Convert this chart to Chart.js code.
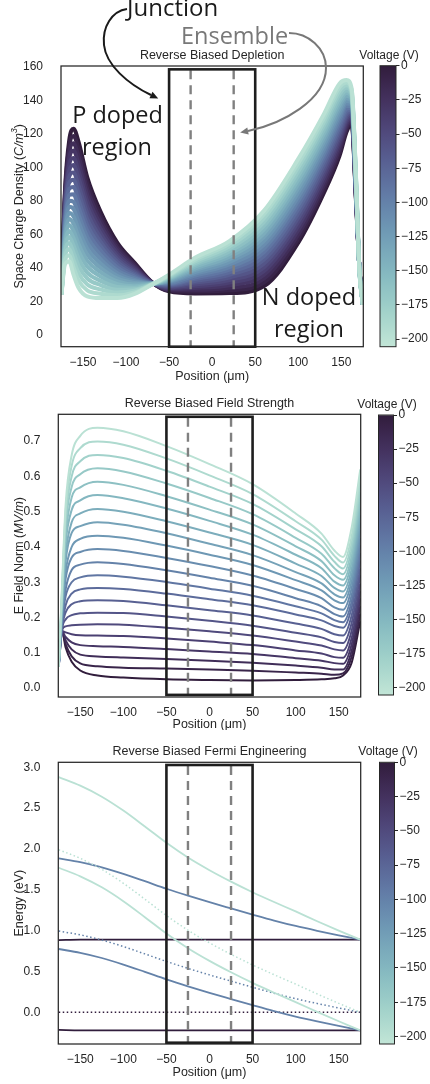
<!DOCTYPE html>
<html>
<head>
<meta charset="UTF-8">
<title>Reverse Biased Junction</title>
<script src="https://cdn.jsdelivr.net/npm/chart.js@4.4.1/dist/chart.umd.min.js"></script>
<style>
html,body{margin:0;padding:0;background:#fff;}
body{position:relative;width:430px;height:1084px;overflow:hidden;}
canvas{position:absolute;}
</style>
</head>
<body>
<script>
// ===== DATA =====
const voltages = [0, -10, -20, -30, -40, -50, -60, -70, -80, -90, -100, -110, -120, -130, -140, -150, -160, -170, -180, -190, -200];
const voltageTicks = [0, -25, -50, -75, -100, -125, -150, -175, -200];
const cbarMin = -205.5;
const positionTicks = [-150, -100, -50, 0, 50, 100, 150];
const junctionEdges = [-50, 50];
const ensembleEdges = [-25, 25];

// space charge density, one row per voltage (0 V first)
const rhoX = [-175, -171, -166, -161, -155, -145, -130, -110, -90, -70, -50, -20, 20, 60, 100, 130, 148, 156, 162, 167, 171, 175];
const rhoByVoltage = [
  [25, 85, 116, 123, 115, 94, 74, 55, 43, 31.5, 26, 24.8, 25, 29, 55, 85, 107, 121, 126, 80, 40, 18],
  [25, 82.9, 112.4, 118.7, 110.7, 90.5, 71.4, 53.4, 42.1, 31.4, 26.5, 25.9, 26.6, 31.3, 57.5, 87.4, 109.2, 122.6, 127.1, 80.8, 39.9, 18],
  [24.9, 80.7, 108.8, 114.3, 106.3, 86.9, 68.8, 51.7, 41.2, 31.4, 27, 26.9, 28.1, 33.5, 60, 89.7, 111.3, 124.1, 128.1, 81.5, 39.8, 18],
  [24.9, 78.6, 105.2, 110, 102, 83.4, 66.2, 50.1, 40.2, 31.3, 27.5, 28, 29.7, 35.8, 62.5, 92.1, 113.5, 125.7, 129.2, 82.3, 39.7, 18],
  [24.8, 76.4, 101.6, 105.6, 97.6, 79.8, 63.6, 48.4, 39.3, 31.2, 28, 29, 31.2, 38, 65, 94.4, 115.6, 127.2, 130.2, 83, 39.6, 18],
  [24.8, 74.3, 98, 101.3, 93.3, 76.3, 61, 46.8, 38.4, 31.1, 28.5, 30.1, 32.8, 40.3, 67.5, 96.8, 117.8, 128.8, 131.3, 83.8, 39.5, 18],
  [24.7, 72.1, 94.4, 96.9, 88.9, 72.7, 58.4, 45.1, 37.5, 31.1, 29, 31.2, 34.3, 42.5, 70, 99.1, 119.9, 130.3, 132.3, 84.5, 39.4, 18],
  [24.7, 70, 90.8, 92.6, 84.6, 69.2, 55.8, 43.5, 36.5, 31, 29.5, 32.2, 35.9, 44.8, 72.5, 101.5, 122.1, 131.9, 133.4, 85.3, 39.3, 18],
  [24.6, 67.8, 87.2, 88.2, 80.2, 65.6, 53.2, 41.8, 35.6, 30.9, 30, 33.3, 37.4, 47, 75, 103.8, 124.2, 133.4, 134.4, 86, 39.2, 18],
  [24.6, 65.7, 83.6, 83.9, 75.9, 62.1, 50.6, 40.2, 34.7, 30.8, 30.5, 34.3, 39, 49.3, 77.5, 106.2, 126.4, 135, 135.5, 86.8, 39.1, 18],
  [24.5, 63.5, 80, 79.5, 71.5, 58.5, 48, 38.5, 33.8, 30.8, 31, 35.4, 40.5, 51.5, 80, 108.5, 128.5, 136.5, 136.5, 87.5, 39, 18],
  [24.5, 61.4, 76.4, 75.2, 67.2, 55, 45.4, 36.9, 32.8, 30.7, 31.5, 36.5, 42.1, 53.8, 82.5, 110.9, 130.7, 138.1, 137.6, 88.3, 38.9, 18],
  [24.4, 59.2, 72.8, 70.8, 62.8, 51.4, 42.8, 35.2, 31.9, 30.6, 32, 37.5, 43.6, 56, 85, 113.2, 132.8, 139.6, 138.6, 89, 38.8, 18],
  [24.4, 57.1, 69.2, 66.5, 58.5, 47.9, 40.2, 33.6, 31, 30.5, 32.5, 38.6, 45.2, 58.3, 87.5, 115.6, 135, 141.2, 139.7, 89.8, 38.7, 18],
  [24.3, 54.9, 65.6, 62.1, 54.1, 44.3, 37.6, 31.9, 30.1, 30.5, 33, 39.6, 46.7, 60.5, 90, 117.9, 137.1, 142.7, 140.7, 90.5, 38.6, 18],
  [24.3, 52.8, 62, 57.8, 49.8, 40.8, 35, 30.3, 29.1, 30.4, 33.5, 40.7, 48.3, 62.8, 92.5, 120.3, 139.3, 144.3, 141.8, 91.3, 38.5, 18],
  [24.2, 50.6, 58.4, 53.4, 45.4, 37.2, 32.4, 28.6, 28.2, 30.3, 34, 41.8, 49.8, 65, 95, 122.6, 141.4, 145.8, 142.8, 92, 38.4, 18],
  [24.2, 48.5, 54.8, 49.1, 41.1, 33.7, 29.8, 27, 27.3, 30.2, 34.5, 42.8, 51.4, 67.3, 97.5, 125, 143.6, 147.4, 143.9, 92.8, 38.3, 18],
  [24.1, 46.3, 51.2, 44.7, 36.7, 30.1, 27.2, 25.3, 26.4, 30.2, 35, 43.9, 52.9, 69.5, 100, 127.3, 145.7, 148.9, 144.9, 93.5, 38.2, 18],
  [24.1, 44.2, 47.6, 40.4, 32.4, 26.6, 24.6, 23.7, 25.4, 30.1, 35.5, 44.9, 54.5, 71.8, 102.5, 129.7, 147.9, 150.5, 146, 94.3, 38.1, 18],
  [24, 42, 44, 36, 28, 23, 22, 22, 24.5, 30, 36, 46, 56, 74, 105, 132, 150, 152, 147, 95, 38, 18]
];
const rhoTicks = [0, 20, 40, 60, 80, 100, 120, 140, 160];

// electric field norm, one row per voltage (0 V first)
const fieldX = [-175, -171, -167, -160, -150, -130, -100, -50, 0, 50, 100, 130, 145, 155, 165, 175];
const fieldByVoltage = [
  [0.13, 0.16, 0.115, 0.075, 0.05, 0.036, 0.030, 0.025, 0.023, 0.022, 0.023, 0.025, 0.028, 0.036, 0.072, 0.19],
  [0.12, 0.16, 0.125, 0.09, 0.07, 0.062, 0.058, 0.0555, 0.0526, 0.0493, 0.0444, 0.0412, 0.038, 0.042, 0.089, 0.211],
  [0.11, 0.16, 0.135, 0.11, 0.095, 0.09, 0.087, 0.083, 0.078, 0.072, 0.064, 0.058, 0.053, 0.053, 0.106, 0.233],
  [0.10, 0.16, 0.145, 0.13, 0.122, 0.119, 0.117, 0.111, 0.104, 0.097, 0.085, 0.078, 0.071, 0.069, 0.124, 0.255],
  [0.09, 0.162, 0.158, 0.153, 0.150, 0.149, 0.148, 0.141, 0.132, 0.122, 0.107, 0.098, 0.088, 0.086, 0.142, 0.276],
  [0.08, 0.165, 0.175, 0.178, 0.180, 0.181, 0.180, 0.171, 0.161, 0.149, 0.132, 0.121, 0.110, 0.107, 0.163, 0.297],
  [0.07, 0.17, 0.195, 0.207, 0.212, 0.214, 0.213, 0.203, 0.191, 0.177, 0.157, 0.144, 0.131, 0.128, 0.185, 0.320],
  [0.06, 0.175, 0.215, 0.238, 0.246, 0.249, 0.247, 0.235, 0.221, 0.206, 0.183, 0.168, 0.153, 0.149, 0.206, 0.340],
  [0.06, 0.18, 0.235, 0.268, 0.280, 0.284, 0.281, 0.268, 0.252, 0.235, 0.209, 0.192, 0.176, 0.171, 0.228, 0.362],
  [0.06, 0.19, 0.26, 0.30, 0.314, 0.320, 0.316, 0.301, 0.282, 0.262, 0.232, 0.212, 0.193, 0.187, 0.245, 0.383],
  [0.06, 0.20, 0.28, 0.335, 0.350, 0.357, 0.352, 0.334, 0.313, 0.290, 0.255, 0.232, 0.210, 0.203, 0.263, 0.405],
  [0.06, 0.21, 0.31, 0.37, 0.386, 0.394, 0.389, 0.369, 0.346, 0.319, 0.281, 0.255, 0.229, 0.222, 0.283, 0.426],
  [0.06, 0.22, 0.33, 0.40, 0.423, 0.432, 0.426, 0.404, 0.378, 0.349, 0.306, 0.277, 0.249, 0.241, 0.302, 0.448],
  [0.06, 0.23, 0.36, 0.44, 0.459, 0.470, 0.463, 0.439, 0.409, 0.377, 0.329, 0.297, 0.266, 0.257, 0.320, 0.470],
  [0.06, 0.24, 0.38, 0.47, 0.495, 0.508, 0.500, 0.473, 0.441, 0.406, 0.353, 0.318, 0.284, 0.274, 0.338, 0.490],
  [0.06, 0.25, 0.41, 0.505, 0.532, 0.547, 0.538, 0.509, 0.474, 0.435, 0.378, 0.340, 0.302, 0.291, 0.357, 0.512],
  [0.06, 0.26, 0.43, 0.54, 0.569, 0.585, 0.576, 0.544, 0.506, 0.464, 0.402, 0.360, 0.320, 0.307, 0.374, 0.534],
  [0.06, 0.27, 0.46, 0.57, 0.606, 0.623, 0.614, 0.580, 0.539, 0.493, 0.426, 0.381, 0.340, 0.323, 0.393, 0.555],
  [0.06, 0.28, 0.48, 0.60, 0.643, 0.661, 0.652, 0.616, 0.571, 0.522, 0.450, 0.402, 0.358, 0.339, 0.411, 0.577],
  [0.06, 0.29, 0.50, 0.63, 0.68, 0.699, 0.690, 0.651, 0.603, 0.550, 0.473, 0.421, 0.375, 0.356, 0.43, 0.60],
  [0.06, 0.30, 0.52, 0.66, 0.715, 0.738, 0.728, 0.686, 0.635, 0.578, 0.495, 0.438, 0.39, 0.372, 0.455, 0.62]
];
const fieldTicks = [0, 0.1, 0.2, 0.3, 0.4, 0.5, 0.6, 0.7];

// band diagram at 0, -100 and -200 V
const bandX = [-175, -150, -125, -100, -75, -50, -25, 0, 25, 50, 75, 100, 125, 150, 175];
const conduction0 = [0.885, 0.89, 0.89, 0.89, 0.89, 0.89, 0.89, 0.89, 0.89, 0.89, 0.89, 0.89, 0.89, 0.89, 0.89];
const fermi0 = [0, 0, 0, 0, 0, 0, 0, 0, 0, 0, 0, 0, 0, 0, 0];
const valence0 = [-0.215, -0.22, -0.22, -0.22, -0.22, -0.22, -0.22, -0.22, -0.22, -0.22, -0.22, -0.22, -0.22, -0.22, -0.22];
const conduction100 = [1.885, 1.838, 1.775, 1.695, 1.605, 1.513, 1.428, 1.348, 1.272, 1.197, 1.124, 1.057, 0.998, 0.943, 0.89];
const fermi100 = [0.995, 0.948, 0.885, 0.805, 0.715, 0.623, 0.538, 0.458, 0.382, 0.307, 0.234, 0.167, 0.108, 0.053, 0.0];
const valence100 = [0.775, 0.728, 0.665, 0.585, 0.495, 0.403, 0.318, 0.238, 0.162, 0.087, 0.014, -0.053, -0.112, -0.167, -0.22];
const conduction200 = [2.88, 2.775, 2.64, 2.47, 2.275, 2.075, 1.895, 1.74, 1.60, 1.47, 1.35, 1.235, 1.115, 1.0, 0.89];
const fermi200 = [1.99, 1.885, 1.75, 1.58, 1.385, 1.185, 1.005, 0.85, 0.71, 0.58, 0.46, 0.345, 0.225, 0.11, 0.0];
const valence200 = [1.77, 1.665, 1.53, 1.36, 1.165, 0.965, 0.785, 0.63, 0.49, 0.36, 0.24, 0.125, 0.005, -0.11, -0.22];
const energyTicks = [0, 0.5, 1, 1.5, 2, 2.5, 3];

// ===== STYLE =====
const family = '"Liberation Sans", Arial, sans-serif';
const ink = '#262626';
Chart.defaults.font.family = family;
Chart.defaults.font.size = 12;
Chart.defaults.color = ink;

// seaborn cubehelix (start .5, rot -.5), dark at 0 V
function voltageColor(v) {
  const t = (v - cbarMin) / (0 - cbarMin);
  const x = 0.85 - 0.7 * t;
  const amp = 0.8 * x * (1 - x) / 2;
  const phi = 2 * Math.PI * (0.5 / 3 - 0.5 * x);
  const c = Math.cos(phi), s = Math.sin(phi);
  const ch = [x + amp * (-0.14861 * c + 1.78277 * s), x + amp * (-0.29227 * c - 0.90649 * s), x + amp * (1.97294 * c)];
  return 'rgb(' + ch.map(u => Math.round(255 * Math.min(1, Math.max(0, u)))).join(',') + ')';
}
const minus = v => String(v).replace('-', '\u2212');

function placeCanvas(left, top, w, h) {
  const c = document.createElement('canvas');
  c.width = w; c.height = h;
  c.style.left = left + 'px'; c.style.top = top + 'px';
  document.body.appendChild(c);
  return c;
}

function curve(xs, ys, color, width, dash) {
  return {
    data: xs.map((x, i) => ({x: x, y: ys[i]})),
    borderColor: color, borderWidth: width, borderDash: dash || [],
    pointRadius: 0, fill: false, cubicInterpolationMode: 'monotone'
  };
}

// frame, junction box, ensemble lines, titles
const panel = {
  id: 'panel',
  afterDatasetsDraw(chart, args, o) {
    const {ctx, scales: {x, y}} = chart;
    const l = x.getPixelForValue(junctionEdges[0]), r = x.getPixelForValue(junctionEdges[1]);
    const t = y.getPixelForValue(o.boxTop), b = y.getPixelForValue(o.boxBottom);
    ctx.save();
    ctx.strokeStyle = '#808080'; ctx.lineWidth = 2.4; ctx.setLineDash([9, 6]);
    ensembleEdges.forEach(v => {
      const px = x.getPixelForValue(v);
      ctx.beginPath(); ctx.moveTo(px, t + 1); ctx.lineTo(px, b); ctx.stroke();
    });
    ctx.setLineDash([]);
    ctx.strokeStyle = '#1e1e1e'; ctx.lineWidth = 2.6;
    ctx.strokeRect(l, t, r - l, b - t);
    ctx.restore();
  },
  afterDraw(chart, args, o) {
    const {ctx, chartArea: a} = chart;
    ctx.save();
    ctx.strokeStyle = ink; ctx.lineWidth = 1.25;
    ctx.strokeRect(a.left, a.top, a.right - a.left, a.bottom - a.top);
    ctx.fillStyle = ink;
    ctx.font = '12.5px ' + family; ctx.textAlign = 'center'; ctx.textBaseline = 'middle';
    const cx = (a.left + a.right) / 2;
    ctx.fillText(o.title, cx, a.top - 10.5);
    ctx.fillText('Position (\u03bcm)', cx, a.bottom + o.xTitleGap);
    ctx.translate(20, (a.top + a.bottom) / 2);
    ctx.rotate(-Math.PI / 2);
    let total = 0;
    o.yTitle.forEach(p => { ctx.font = p.font; total += ctx.measureText(p.text).width; });
    let pos = -total / 2;
    ctx.textAlign = 'left';
    o.yTitle.forEach(p => { ctx.font = p.font; ctx.fillText(p.text, pos, p.dy || 0); pos += ctx.measureText(p.text).width; });
    ctx.restore();
  }
};

function arrow(ctx, pts, color) {
  ctx.strokeStyle = color; ctx.fillStyle = color; ctx.lineWidth = 2;
  ctx.beginPath(); ctx.moveTo(pts[0][0], pts[0][1]);
  for (let i = 1; i < pts.length; i += 3) ctx.bezierCurveTo(pts[i][0], pts[i][1], pts[i + 1][0], pts[i + 1][1], pts[i + 2][0], pts[i + 2][1]);
  ctx.stroke();
  const e = pts[pts.length - 1], c = pts[pts.length - 2];
  const ang = Math.atan2(e[1] - c[1], e[0] - c[0]);
  const dx = Math.cos(ang), dy = Math.sin(ang);
  ctx.beginPath();
  ctx.moveTo(e[0] + dx * 8, e[1] + dy * 8);
  ctx.lineTo(e[0] - dy * 3.5, e[1] + dx * 3.5);
  ctx.lineTo(e[0] + dy * 3.5, e[1] - dx * 3.5);
  ctx.closePath(); ctx.fill();
}

// text labels + arrows on the top panel
const notes = {
  id: 'notes',
  afterDraw(chart) {
    const ctx = chart.ctx;
    ctx.save();
    ctx.textBaseline = 'alphabetic';
    ctx.fillStyle = '#1a1a1a'; ctx.font = '24px "Open Sans"'; ctx.textAlign = 'left';
    ctx.fillText('Junction', 127, 16);
    ctx.fillStyle = '#787878'; ctx.font = '23.5px "Open Sans"';
    ctx.fillText('Ensemble', 181, 44);
    ctx.fillStyle = '#1a1a1a'; ctx.textAlign = 'center';
    ctx.fillText('P doped', 117.5, 123);
    ctx.fillText('region', 117, 155);
    ctx.fillText('N doped', 309, 305);
    ctx.fillText('region', 309, 336.5);
    arrow(ctx, [[127, 9], [112, 11], [102, 27], [104, 45], [106, 65], [128, 84], [151, 95]], '#1a1a1a');
    arrow(ctx, [[289, 33], [308, 33], [326, 48], [326, 68], [326, 100], [282, 124], [248, 131]], '#787878');
    ctx.restore();
  }
};

function makeMain(cfg) {
  const canvas = placeCanvas(0, cfg.top, 372, cfg.height);
  return new Chart(canvas, {
    type: 'line',
    data: {datasets: cfg.datasets},
    options: {
      responsive: false, devicePixelRatio: 1, animation: false,
      layout: {padding: {left: 0, right: cfg.padRight, top: cfg.padTop, bottom: 0}},
      plugins: {legend: {display: false}, tooltip: {enabled: false}, panel: cfg.panel},
      scales: {
        x: {
          type: 'linear', min: -175.5, max: 175.5,
          grid: {display: false}, border: {display: false},
          ticks: {padding: cfg.xPad, autoSkip: false, maxRotation: 0, color: ink, callback: v => minus(v)},
          afterBuildTicks: s => { s.ticks = positionTicks.map(v => ({value: v})); },
          afterFit: s => { s.height = cfg.xHeight; }
        },
        y: {
          type: 'linear', min: cfg.yMin, max: cfg.yMax,
          grid: {display: false}, border: {display: false},
          ticks: {padding: 10, autoSkip: false, color: ink, callback: cfg.yFmt},
          afterBuildTicks: s => { s.ticks = cfg.yTicks.map(v => ({value: v})); },
          afterFit: s => { s.width = cfg.yWidth; }
        }
      }
    },
    plugins: [panel].concat(cfg.extra || [])
  });
}

// colorbar frame + label
const cbarFrame = {
  id: 'cbarFrame',
  afterDraw(chart) {
    const {ctx, chartArea: a} = chart;
    ctx.save();
    ctx.strokeStyle = ink; ctx.lineWidth = 1;
    ctx.strokeRect(a.left, a.top, a.right - a.left, a.bottom - a.top);
    ctx.fillStyle = ink; ctx.font = '12px ' + family;
    ctx.textAlign = 'center'; ctx.textBaseline = 'middle';
    ctx.fillText('Voltage (V)', (a.left + a.right) / 2 + 1, a.top - 10.5);
    ctx.restore();
  }
};

function makeColorbar(rect) {
  const cl = 350, cw = 80;
  const top = Math.floor(rect.top - 22);
  const h = Math.ceil(rect.bottom + 10) - top;
  const canvas = placeCanvas(cl, top, cw, h);
  return new Chart(canvas, {
    type: 'bar',
    data: {
      labels: ['V'],
      datasets: [{
        data: [[cbarMin, 0]], borderWidth: 0, barPercentage: 1, categoryPercentage: 1,
        backgroundColor: c => {
          const a = c.chart.chartArea;
          if (!a) return '#888';
          const g = c.chart.ctx.createLinearGradient(0, a.top, 0, a.bottom);
          for (let k = 0; k <= 24; k++) g.addColorStop(k / 24, voltageColor(cbarMin * k / 24));
          return g;
        }
      }]
    },
    options: {
      responsive: false, devicePixelRatio: 1, animation: false,
      layout: {padding: {left: rect.left - cl, right: 0, top: rect.top - top, bottom: h - (rect.bottom - top)}},
      plugins: {legend: {display: false}, tooltip: {enabled: false}},
      scales: {
        x: {display: false},
        y: {
          position: 'right', min: cbarMin, max: 0,
          grid: {display: true, drawOnChartArea: false, drawTicks: true, tickLength: 3.5, color: ink},
          border: {display: false},
          ticks: {padding: 1.5, color: ink, font: {size: 12}, callback: v => minus(v)},
          afterBuildTicks: s => { s.ticks = voltageTicks.map(v => ({value: v})); },
          afterFit: s => { s.width = cw - (rect.right - cl); }
        }
      }
    },
    plugins: [cbarFrame]
  });
}

// ===== CHARTS =====
const rhoSets = voltages.map((v, i) => curve(rhoX, rhoByVoltage[i], voltageColor(v), 4)).reverse();
makeMain({
  top: 0, height: 385, padTop: 66, padRight: 8.7, yWidth: 61, xHeight: 38.3, xPad: 1.2,
  yMin: -7, yMax: 160.4, yTicks: rhoTicks, yFmt: v => minus(v),
  datasets: rhoSets,
  panel: {
    title: 'Reverse Biased Depletion', boxTop: 158.4, boxBottom: -7, xTitleGap: 30,
    yTitle: [
      {text: 'Space Charge Density (', font: '12.5px ' + family},
      {text: 'C/m', font: 'italic 12.5px ' + family},
      {text: '3', font: 'italic 8.5px ' + family, dy: -5},
      {text: ')', font: '12.5px ' + family}
    ]
  },
  extra: [notes]
});

const fieldSets = voltages.map((v, i) => curve(fieldX, fieldByVoltage[i], voltageColor(v), 2)).reverse();
makeMain({
  top: 385, height: 345, padTop: 29.3, padRight: 11.3, yWidth: 58.3, xHeight: 33, xPad: 0,
  yMin: -0.025, yMax: 0.776, yTicks: fieldTicks, yFmt: v => v.toFixed(1),
  datasets: fieldSets,
  panel: {
    title: 'Reverse Biased Field Strength', boxTop: 0.769, boxBottom: -0.019, xTitleGap: 27.5,
    yTitle: [
      {text: 'E Field Norm (', font: '12.5px ' + family},
      {text: 'MV/m', font: 'italic 12.5px ' + family},
      {text: ')', font: '12.5px ' + family}
    ]
  }
});

const dot = [1.5, 2.5];
const c0 = voltageColor(0), c100 = voltageColor(-100), c200 = voltageColor(-200);
makeMain({
  top: 730, height: 354, padTop: 32.3, padRight: 11.3, yWidth: 58.3, xHeight: 40, xPad: 0.5,
  yMin: -0.388, yMax: 3.061, yTicks: energyTicks, yFmt: v => v.toFixed(1),
  datasets: [
    curve(bandX, conduction200, c200, 1.8), curve(bandX, fermi200, c200, 1.5, dot), curve(bandX, valence200, c200, 1.8),
    curve(bandX, conduction100, c100, 1.8), curve(bandX, fermi100, c100, 1.5, dot), curve(bandX, valence100, c100, 1.8),
    curve(bandX, conduction0, c0, 1.8), curve(bandX, fermi0, c0, 1.5, dot), curve(bandX, valence0, c0, 1.8)
  ],
  panel: {
    title: 'Reverse Biased Fermi Engineering', boxTop: 3.028, boxBottom: -0.372, xTitleGap: 29,
    yTitle: [{text: 'Energy (eV)', font: '12.5px ' + family}]
  }
});

makeColorbar({left: 380, right: 396, top: 65.7, bottom: 346.7});
makeColorbar({left: 378.5, right: 393.5, top: 415, bottom: 695});
makeColorbar({left: 379.5, right: 394.5, top: 762.3, bottom: 1044});
</script>
</body>
</html>
